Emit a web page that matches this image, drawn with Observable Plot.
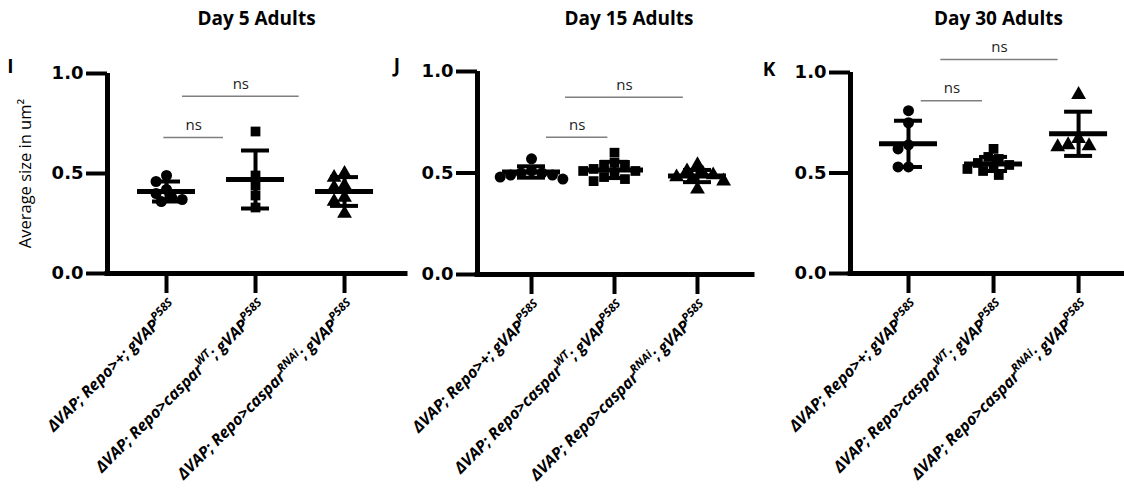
<!DOCTYPE html>
<html><head><meta charset="utf-8">
<script src="https://cdn.jsdelivr.net/npm/d3@7"></script>
<script src="https://cdn.jsdelivr.net/npm/@observablehq/plot@0.6"></script>
<style>
body{margin:0;background:#fff;}
#chart{position:relative;width:1124px;height:496px;overflow:hidden;background:#fff;}
#chart svg{position:absolute;top:0;overflow:visible;}
</style></head><body><div id="chart"></div>
<script>
// ---------- data ----------
const groupLabels = [
  "ΔVAP; Repo>+; gVAP^{P58S}",
  "ΔVAP; Repo>caspar^{WT}; gVAP^{P58S}",
  "ΔVAP; Repo>caspar^{RNAi}; gVAP^{P58S}"
];
const groupSymbols = ["circle", "square", "triangle"];
const yTicks = [0, 0.5, 1.0];
const panelLetters = ["I", "J", "K"];
const panelTitles = ["Day 5 Adults", "Day 15 Adults", "Day 30 Adults"];
const yLabel = "Average size in um²";
const nsText = "ns";

// Day 5
const day5Repo = [0.49, 0.46, 0.42, 0.40, 0.38, 0.37, 0.36];
const day5CasparWT = [0.71, 0.49, 0.44, 0.39, 0.33];
const day5CasparRNAi = [0.50, 0.48, 0.44, 0.43, 0.38, 0.36, 0.30];
const day5Mean = [0.41, 0.47, 0.41];
const day5SD = [0.05, 0.145, 0.072];
const day5NsFrom = [-0.03, 0.18];
const day5NsTo = [0.64, 1.49];
const day5NsY = [0.68, 0.886];

// Day 15
const day15Repo = [0.57, 0.51, 0.50, 0.50, 0.49, 0.49, 0.48, 0.47];
const day15CasparWT = [0.60, 0.55, 0.54, 0.54, 0.52, 0.51, 0.51, 0.49, 0.48, 0.47, 0.46];
const day15CasparRNAi = [0.54, 0.51, 0.50, 0.49, 0.48, 0.47, 0.46, 0.42];
const day15Mean = [0.505, 0.515, 0.485];
const day15SD = [0.028, 0.04, 0.03];
const day15NsFrom = [0.18, 0.41];
const day15NsTo = [0.92, 1.83];
const day15NsY = [0.676, 0.873];

// Day 30
const day30Repo = [0.81, 0.75, 0.64, 0.62, 0.53, 0.53];
const day30CasparWT = [0.62, 0.58, 0.57, 0.55, 0.54, 0.53, 0.52, 0.51, 0.49];
const day30CasparRNAi = [0.89, 0.67, 0.64, 0.635, 0.63];
const day30Mean = [0.645, 0.545, 0.695];
const day30SD = [0.115, 0.035, 0.11];
const day30NsFrom = [0.15, 0.38];
const day30NsTo = [0.87, 1.76];
const day30NsY = [0.86, 1.065];

// ---------- layout (styles, not data) ----------
const panels = [
  {values:[day5Repo, day5CasparWT, day5CasparRNAi], mean:day5Mean, sd:day5SD, nsFrom:day5NsFrom, nsTo:day5NsTo, nsY:day5NsY,
   left:0, width:410, mL:107, mR:5, mT:73, mB:223, xDom:[-0.663, 2.685], titleDx:0, letterDx:-97, letterDy:-6.5, showYLabel:true},
  {values:[day15Repo, day15CasparWT, day15CasparRNAi], mean:day15Mean, sd:day15SD, nsFrom:day15NsFrom, nsTo:day15NsTo, nsY:day15NsY,
   left:410, width:344, mL:67, mR:2, mT:71, mB:222, xDom:[-0.651, 2.663], titleDx:14, letterDx:-80.5, letterDy:-5.5, showYLabel:false},
  {values:[day30Repo, day30CasparWT, day30CasparRNAi], mean:day30Mean, sd:day30SD, nsFrom:day30NsFrom, nsTo:day30NsTo, nsY:day30NsY,
   left:754, width:370, mL:96, mR:0, mT:72, mB:223, xDom:[-0.682, 2.54], titleDx:11, letterDx:-81.5, letterDy:-2.5, showYLabel:false}
];
const H = 496;
const DOT_R = 5.5;

function swarmOffsets(values, pxX, pxY, diam) {
  const placed = [];
  const step = diam * 0.55;
  return values.map(v => {
    const py = v * pxY;
    let off = 0;
    for (let k = 0; k < 400; k++) {
      const cand = k === 0 ? 0 : (k % 2 ? -1 : 1) * Math.ceil(k / 2) * step;
      if (placed.every(p => Math.hypot(cand - p.x, py - p.y) >= diam)) { off = cand; break; }
    }
    placed.push({x: off, y: py});
    return off / pxX;
  });
}

function supify(svg) {
  d3.select(svg).selectAll("text").each(function() {
    const t = this.textContent;
    if (!t.includes("^{")) return;
    const sel = d3.select(this);
    sel.text(null);
    const parts = t.split(/\^\{([^}]*)\}/);
    let raised = false;
    parts.forEach((p, i) => {
      if (!p) return;
      const sup = i % 2 === 1;
      const ts = sel.append("tspan").text(p);
      if (sup) { ts.attr("font-size", 11.5).attr("dy", -7); raised = true; }
      else if (raised) { ts.attr("dy", 7); raised = false; }
    });
  });
}

const root = document.getElementById("chart");
const idx = [0, 1, 2];

panels.forEach((P, pi) => {
  const frameW = P.width - P.mL - P.mR;
  const pxX = frameW / (P.xDom[1] - P.xDom[0]);
  const pxY = H - P.mT - P.mB;
  const meanHalf = 29 / pxX;
  const capHalf = 14 / pxX;

  const dotMarks = P.values.map((vals, g) => {
    const offs = swarmOffsets(vals, pxX, pxY, 9.5);
    const pts = vals.map((v, j) => ({x: g + offs[j], y: v}));
    return Plot.dot(pts, {x: "x", y: "y", symbol: groupSymbols[g], r: DOT_R, fill: "black", stroke: "none"});
  });

  const ns = P.nsFrom.map((f, i) => ({x1: f, x2: P.nsTo[i], y: P.nsY[i]}));

  const marks = [
    // axis lines
    Plot.ruleY([0], {strokeWidth: 5, strokeLinecap: "square"}),
    Plot.ruleX([P.xDom[0]], {y1: 0, y2: 1, strokeWidth: 5}),
    // y ticks and labels
    Plot.axisY({ticks: yTicks, tickSize: 21, tickPadding: 3, strokeWidth: 4, tickFormat: d3.format(".1f"),
      fontSize: 18, fontWeight: "bold", fontFamily: "DejaVu Sans", label: null}),
    // x ticks
    Plot.axisX({ticks: idx, tickSize: 20, strokeWidth: 4, tickFormat: () => "", label: null}),
    // x labels
    Plot.axisX({ticks: idx, tickSize: 0, tickPadding: 31, tickRotate: -45, textAnchor: "end", lineAnchor: "middle",
      dx: 8, tickFormat: i => groupLabels[i], fontSize: 16, fontWeight: "bold", fontStyle: "italic",
      fontFamily: "Open Sans", label: null}),
    // SD bars
    Plot.ruleX(idx, {x: i => i, y1: i => P.mean[i] - P.sd[i], y2: i => P.mean[i] + P.sd[i], strokeWidth: 4}),
    Plot.ruleY(idx, {y: i => P.mean[i] + P.sd[i], x1: i => i - capHalf, x2: i => i + capHalf, strokeWidth: 4}),
    Plot.ruleY(idx, {y: i => P.mean[i] - P.sd[i], x1: i => i - capHalf, x2: i => i + capHalf, strokeWidth: 4}),
    ...dotMarks,
    // mean lines
    Plot.ruleY(idx, {y: i => P.mean[i], x1: i => i - meanHalf, x2: i => i + meanHalf, strokeWidth: 5}),
    // ns brackets
    Plot.ruleY(ns, {y: "y", x1: "x1", x2: "x2", stroke: "#7f7f7f", strokeWidth: 1.5}),
    Plot.text(ns, {x: d => (d.x1 + d.x2) / 2, y: "y", text: () => nsText, dy: -12, fontSize: 15,
      fontFamily: "Open Sans", fill: "#222", textAnchor: "middle", lineAnchor: "middle"}),
    // title and panel letter
    Plot.text([panelTitles[pi]], {frameAnchor: "top", dx: P.titleDx, dy: 18 - P.mT, textAnchor: "middle", lineAnchor: "middle",
      fontSize: 19, fontWeight: "bold", fontFamily: "Open Sans", fill: "black"}),
    Plot.text([panelLetters[pi]], {frameAnchor: "top-left", dx: P.letterDx, dy: P.letterDy, textAnchor: "middle", lineAnchor: "middle",
      fontSize: 19, fontWeight: "bold", fontFamily: "Open Sans", fill: "black"})
  ];
  if (P.showYLabel) {
    marks.push(Plot.text([yLabel], {frameAnchor: "left", dx: -82, rotate: -90, textAnchor: "middle", lineAnchor: "middle",
      fontSize: 16.5, fontFamily: "Open Sans", fill: "black"}));
  }

  const svg = Plot.plot({
    width: P.width, height: H,
    marginLeft: P.mL, marginRight: P.mR, marginTop: P.mT, marginBottom: P.mB,
    x: {type: "linear", domain: P.xDom, axis: null},
    y: {domain: [0, 1], axis: null},
    style: {fontFamily: "Open Sans", color: "black", background: "transparent", overflow: "visible"},
    marks
  });
  svg.style.left = P.left + "px";
  supify(svg);
  root.appendChild(svg);
});
</script></body></html>
